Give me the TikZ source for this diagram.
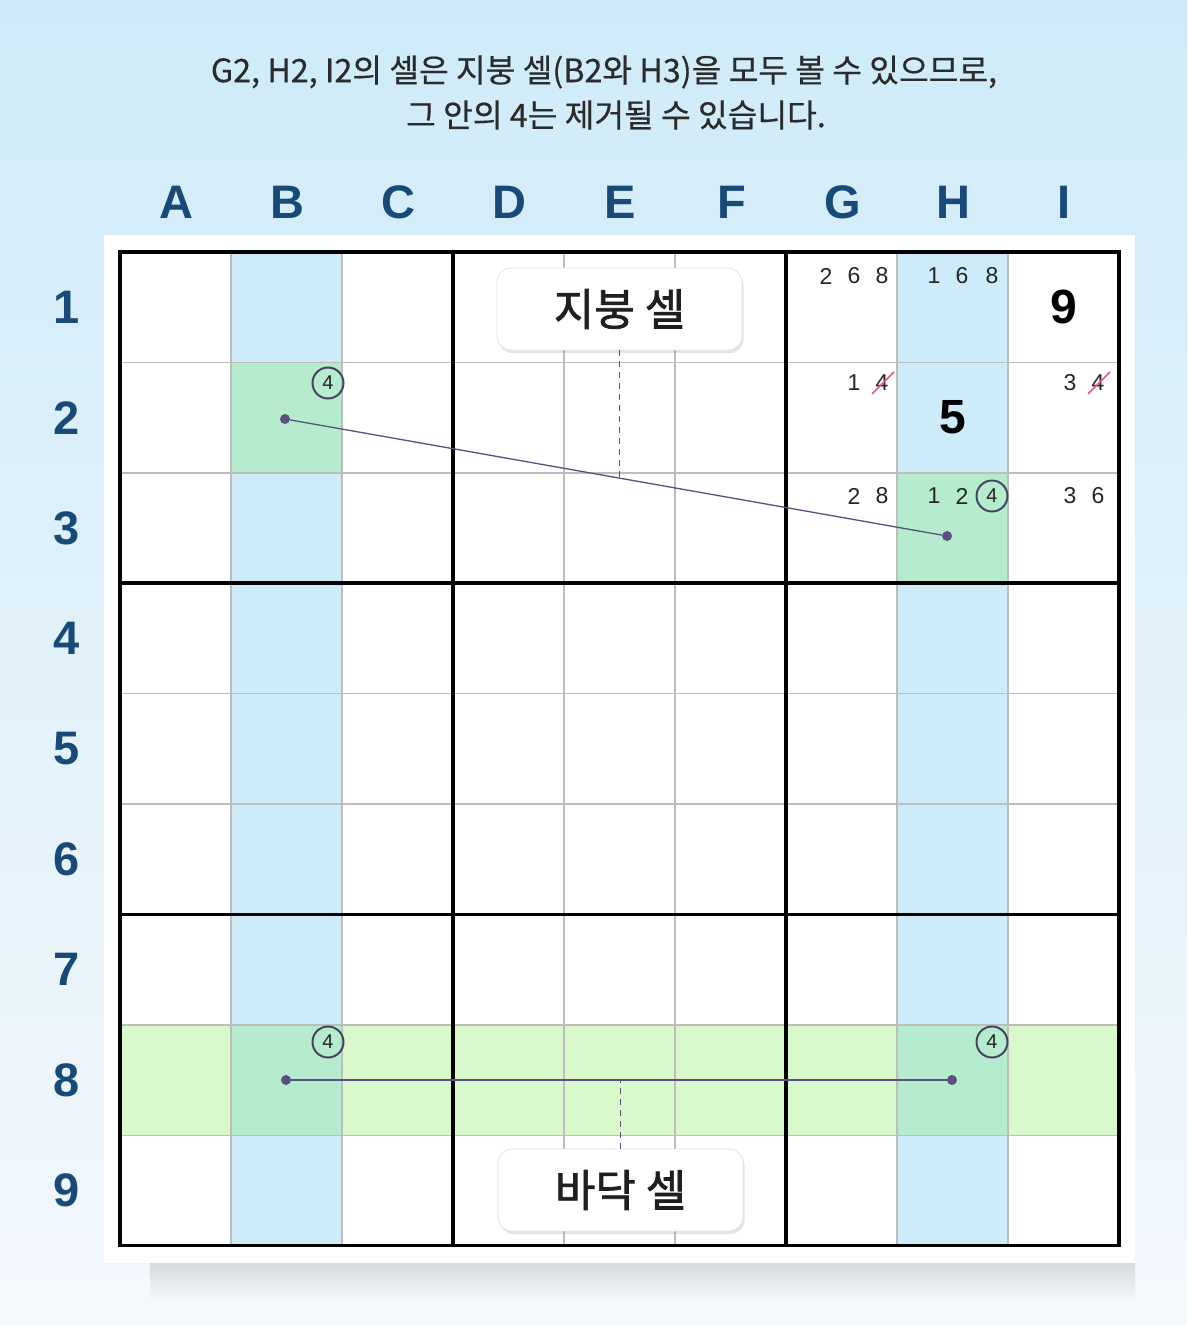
\documentclass[tikz,border=0pt]{standalone}
\usepackage{fontspec}
\setmainfont{Liberation Sans}
\newfontfamily\kr{Noto Sans CJK KR}[FakeBold=0.4]
\newfontfamily\krlab{Noto Sans CJK KR}[FakeBold=1.6]
\usetikzlibrary{calc,shadows}
\definecolor{bgtop}{HTML}{CFEBF9}
\definecolor{bgbot}{HTML}{F3F8FC}
\definecolor{colblue}{HTML}{CDEBF8}
\definecolor{mint}{HTML}{B5ECCD}
\definecolor{band}{HTML}{DAF9CB}
\definecolor{gridgray}{HTML}{BDBDBD}
\definecolor{pur}{HTML}{5B4F80}
\definecolor{circ}{HTML}{45455F}
\definecolor{strk}{HTML}{D9607A}
\definecolor{navy}{HTML}{174A78}
\definecolor{hdr}{HTML}{2B2B2B}
\begin{document}
\begin{tikzpicture}[x=1pt,y=-1pt,
  hdrtext/.style={text=hdr,font=\kr\fontsize{32.3}{32.3}\selectfont,inner sep=0},
  axis/.style={text=navy,font=\bfseries\fontsize{47}{47}\selectfont,inner sep=0},
  cand/.style={text=black!85,font=\fontsize{23}{23}\selectfont,inner sep=0},
  given/.style={text=black,font=\bfseries\fontsize{48}{48}\selectfont,inner sep=0},
  cfour/.style={circle,draw=circ,line width=2pt,minimum size=31pt,inner sep=0,text=black!85,font=\fontsize{20}{20}\selectfont},
  dot/.style={circle,fill=pur,inner sep=0,minimum size=10pt},
  link/.style={draw=pur,line width=1.3pt},
  guide/.style={draw=pur,line width=1pt,dash pattern=on 6pt off 5pt},
  strike/.style={draw=strk,line width=1.6pt},
  gridline/.style={draw=gridgray,line width=1.4pt},
  boxline/.style={draw=black,line width=3.5pt},
  lbl/.style={rounded corners=14pt,fill=white,draw=black!10,line width=0.8pt,minimum width=245pt,minimum height=82pt,
    font=\krlab\fontsize{44}{44}\selectfont,text=black!88,
    drop shadow={opacity=0.22,shadow xshift=1.5pt,shadow yshift=-3pt}}]
\useasboundingbox (0,0) rectangle (1187,1325);
\shade[top color=bgtop,bottom color=bgbot] (0,0) rectangle (1187,1325);
% shadow under panel
\shade[top color=black!22,bottom color=bgbot,opacity=0.6] (150,1263) rectangle (1135,1300);
% white panel
\fill[white] (104,235) rectangle (1135,1263);
% header
\node[hdrtext] (h1) at (604,72) {G2, H2, I2의 셀은 지붕 셀(B2와 H3)을 모두 볼 수 있으므로,};
\node[hdrtext] (h2) at (616,115) {그 안의 4는 제거될 수 있습니다.};
% column letters and row numbers
\foreach \L [count=\i from 0] in {A,B,C,D,E,F,G,H,I}
  \node[axis] (col\L) at ({176.5+111*\i},202) {\L};
\foreach \r in {1,...,9}
  \node[axis] (row\r) at (67,{252+110.4*(\r-0.5)}) {\r};
% fills
\fill[band] (120,1024.8) rectangle (1119,1135.2);
\fill[colblue] (231,252) rectangle (342,1024.8);
\fill[colblue] (231,1135.2) rectangle (342,1245.6);
\fill[colblue] (897,252) rectangle (1008,1024.8);
\fill[colblue] (897,1135.2) rectangle (1008,1245.6);
\fill[mint] (231,362.4) rectangle (342,472.8);
\fill[mint] (897,472.8) rectangle (1008,583.2);
\fill[mint] (231,1024.8) rectangle (342,1135.2);
\fill[mint] (897,1024.8) rectangle (1008,1135.2);
% grid
\foreach \i in {1,2,4,5,7,8}{
  \draw[gridline] ({120+111*\i},252) -- ({120+111*\i},1245.6);
  \draw[gridline] (120,{252+110.4*\i}) -- (1119,{252+110.4*\i});
}
\foreach \i in {0,3,6,9}{
  \draw[boxline] ({120+111*\i},250.25) -- ({120+111*\i},1247.35);
  \draw[boxline] (118.25,{252+110.4*\i}) -- (1120.75,{252+110.4*\i});
}
% given digits
\node[given] (i1) at (1063.5,307.2) {9};
\node[given] (h2v) at (952.5,417.6) {5};
% candidates row 1
\node[cand] at (826,276) {2};
\node[cand] at (854,276) {6};
\node[cand] at (882,276) {8};
\node[cand] at (934,276) {1};
\node[cand] at (962,276) {6};
\node[cand] at (992,276) {8};
% row 2
\node[cand] at (854,383) {1};
\node[cand] (g2x) at (882,383) {4};
\node[cand] at (1070,383) {3};
\node[cand] (i2x) at (1098,383) {4};
\draw[strike] ($(g2x)+(-10,11)$) -- ($(g2x)+(12,-11)$);
\draw[strike] ($(i2x)+(-10,11)$) -- ($(i2x)+(12,-11)$);
% row 3
\node[cand] at (854,496) {2};
\node[cand] at (882,496) {8};
\node[cand] at (934,496) {1};
\node[cand] at (962,496) {2};
\node[cand] at (1070,496) {3};
\node[cand] at (1098,496) {6};
% circled fours
\node[cfour] (cb2) at (328,383) {4};
\node[cfour] (ch3) at (992,496) {4};
\node[cfour] (cb8) at (328,1042) {4};
\node[cfour] (ch8) at (992,1042) {4};
% dots and links
\node[dot] (b2) at (285,419) {};
\node[dot] (h3) at (947,536) {};
\node[dot] (b8) at (286,1080) {};
\node[dot] (h8) at (952,1080) {};
\draw[link] (b2) -- (h3);
\draw[link] (b8) -- (h8);
% labels
\node[lbl] (roof) at (619.5,309) {지붕 셀};
\node[lbl] (floor) at (620.5,1190) {바닥 셀};
\coordinate (rp) at ($(b2)!0.5045!(h3)$);
\draw[guide] (roof.south) -- (roof.south |- rp);
\draw[guide] (floor.north) -- (floor.north |- b8);
\end{tikzpicture}
\end{document}
